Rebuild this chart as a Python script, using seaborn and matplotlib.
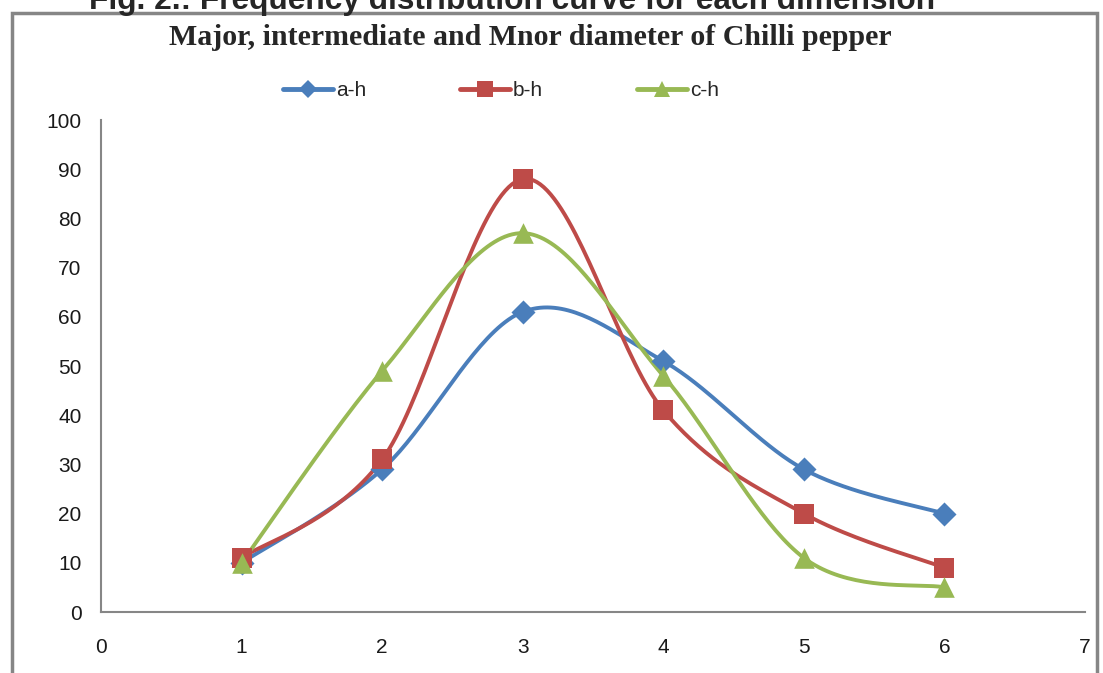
import numpy as np
import pandas as pd
import matplotlib
matplotlib.use("Agg")
import matplotlib.pyplot as plt
import seaborn as sns
from matplotlib.lines import Line2D
from matplotlib.patches import Rectangle

# ---- data ----
x_vals = [1, 2, 3, 4, 5, 6]
a_h = [10, 29, 61, 51, 29, 20]
b_h = [11, 31, 88, 41, 20, 9]
c_h = [10, 49, 77, 48, 11, 5]
series_names = ["a-h", "b-h", "c-h"]
colors = ["#4A7EBB", "#BE4B48", "#98B954"]
markers = ["D", "s", "^"]
y_ticks = [0, 10, 20, 30, 40, 50, 60, 70, 80, 90, 100]
x_ticks = [0, 1, 2, 3, 4, 5, 6, 7]
fig_caption = "Fig. 2.: Frequency distribution curve for each dimension"
chart_title = "Major, intermediate and Mnor diameter of Chilli pepper"


def smooth(xs, ys, n=40):
    """Excel-style smoothed line (Catmull-Rom Bezier) through the points."""
    P = np.column_stack([xs, ys]).astype(float)
    out = []
    for i in range(len(P) - 1):
        p0 = P[i - 1] if i > 0 else P[i]
        p1 = P[i]
        p2 = P[i + 1]
        p3 = P[i + 2] if i + 2 < len(P) else P[i + 1]
        c1 = p1 + (p2 - p0) / 6.0
        c2 = p2 - (p3 - p1) / 6.0
        t = np.linspace(0, 1, n, endpoint=(i == len(P) - 2))[:, None]
        seg = ((1 - t) ** 3) * p1 + 3 * ((1 - t) ** 2) * t * c1 + 3 * (1 - t) * t ** 2 * c2 + t ** 3 * p2
        out.append(seg)
    return np.vstack(out)


sns.set_style("white")
plt.rcParams["font.family"] = ["Liberation Sans", "DejaVu Sans"]

fig = plt.figure(figsize=(11.03, 6.73), dpi=100)
ax = fig.add_axes([101 / 1103, 1 - 612 / 673, (1085 - 101) / 1103, (612 - 120) / 673])

curve_frames = []
point_frames = []
for name, vals in zip(series_names, [a_h, b_h, c_h]):
    cv = smooth(x_vals, vals)
    curve_frames.append(pd.DataFrame({"x": cv[:, 0], "y": cv[:, 1], "series": name, "order": np.arange(len(cv))}))
    point_frames.append(pd.DataFrame({"x": x_vals, "y": vals, "series": name}))
curves = pd.concat(curve_frames, ignore_index=True)
points = pd.concat(point_frames, ignore_index=True)

palette = dict(zip(series_names, colors))
sns.lineplot(data=curves, x="x", y="y", hue="series", units="series", estimator=None,
             sort=False, palette=palette, linewidth=2.8, legend=False, ax=ax, zorder=2)
msizes = {"a-h": 150, "b-h": 200, "c-h": 220}
for name, mk in zip(series_names, markers):
    sub = points[points["series"] == name]
    sns.scatterplot(data=sub, x="x", y="y", color=palette[name], marker=mk,
                    s=msizes[name], linewidth=0, legend=False, ax=ax, zorder=3)

ax.set_xlim(0, 7)
ax.set_ylim(0, 100)
ax.set_xticks(x_ticks)
ax.set_yticks(y_ticks)
ax.set_xlabel("")
ax.set_ylabel("")
for s in ["top", "right"]:
    ax.spines[s].set_visible(False)
for s in ["left", "bottom"]:
    ax.spines[s].set_color("#868686")
    ax.spines[s].set_linewidth(1.5)
ax.tick_params(axis="both", which="major", direction="out", length=6, width=1.5,
               color="#868686", labelsize=15, labelcolor="#1a1a1a")
ax.tick_params(axis="x", pad=13)
ax.tick_params(axis="y", pad=8)
ax.grid(False)

# legend
handles = [Line2D([0], [0], color=c, lw=3.5, marker=m, markersize=ms,
                  markeredgewidth=0) for c, m, ms in zip(colors, markers, [9, 12, 11])]
fig.legend(handles, series_names, loc="center", bbox_to_anchor=(501 / 1103, 1 - 91 / 673),
           ncol=3, frameon=False, fontsize=15, columnspacing=4.5, handlelength=2.4,
           handletextpad=0.15)

# titles
fig.text(530 / 1103, 1 - 45 / 673, chart_title, ha="center", va="baseline",
         fontsize=21.5, fontweight="bold", family=["Liberation Serif", "DejaVu Serif"])
fig.text(935 / 1103, 1 - 9 / 673, fig_caption, ha="right", va="baseline",
         fontsize=22.8, fontweight="bold")

# outer chart border
fig.patches.append(Rectangle((12 / 1103, -0.05), (1097 - 12) / 1103, 1.05 - 13 / 673,
                             transform=fig.transFigure, fill=False, edgecolor="#868686",
                             linewidth=2.5, zorder=0))

fig.savefig("out.png", dpi=100)
